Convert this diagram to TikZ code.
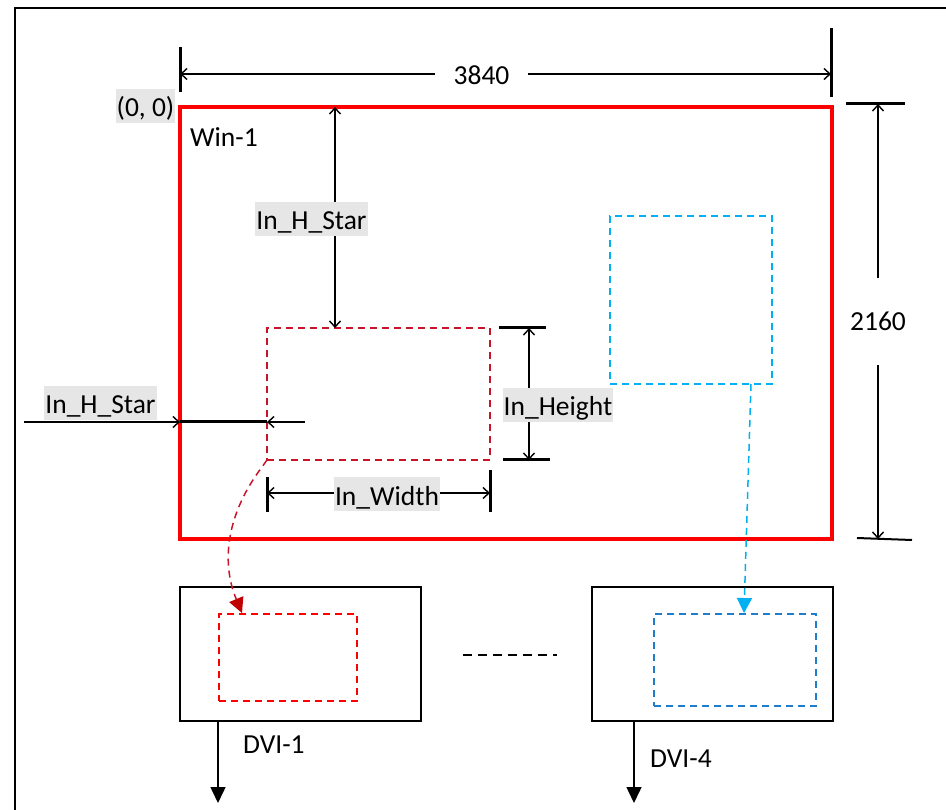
\documentclass[tikz,border=0pt]{standalone}
\usepackage{fontspec}
\setmainfont{Carlito}
\usetikzlibrary{arrows.meta}
\definecolor{winred}{RGB}{255,0,0}
\definecolor{srcred}{RGB}{200,20,40}
\definecolor{darkred}{RGB}{192,0,0}
\definecolor{cyanb}{RGB}{0,176,240}
\definecolor{midblue}{RGB}{30,125,205}
\definecolor{lblgray}{RGB}{230,230,230}
\tikzset{
  rectnode/.style={inner sep=0pt, outer sep=0pt},
  dimboth/.style={line width=1.4pt, {Straight Barb[length=6pt,width=11pt]}-{Straight Barb[length=6pt,width=11pt]}},
  dimone/.style={line width=1.4pt, -{Straight Barb[length=6pt,width=11pt]}},
  tickline/.style={line width=3pt},
  glabel/.style={fill=lblgray, inner xsep=1pt, inner ysep=0pt, text height=28pt, text depth=6pt},
  plainlabel/.style={inner sep=0pt},
  dashrect/.style={line width=1.5pt, dash pattern=on 7pt off 5pt},
  outarrow/.style={line width=1.5pt, -{Triangle[length=16pt,width=15pt]}},
}
\begin{document}
\begin{tikzpicture}[x=1pt,y=-1pt, font=\fontsize{27.5}{32}\selectfont]
\useasboundingbox (0,0) rectangle (946,810);
% outer frame
\coordinate (fbl) at (15,812);
\coordinate (ftl) at (15,8);
\coordinate (ftr) at (948,8);
\draw[line width=2pt] (fbl) -- (ftl) -- (ftr);

% main window
\node[rectnode, draw=winred, line width=4pt, minimum width=652pt, minimum height=432pt] (win) at (506,323) {};
\node[plainlabel, anchor=base west] (winlbl) at (190,147) {Win-1};
\node[glabel, anchor=base] (origin) at (145.5,117) {(0, 0)};

% source windows
\node[rectnode, draw=srcred, dashrect, minimum width=223pt, minimum height=132pt] (src) at (378.5,394) {};
\node[rectnode, draw=cyanb, dashrect, minimum width=162pt, minimum height=168pt] (bsrc) at (691,300) {};

% top dimension 3840
\coordinate (t1a) at (180,47); \coordinate (t1b) at (180,92);
\coordinate (t2a) at (831,28); \coordinate (t2b) at (831,97);
\draw[tickline] (t1a) -- (t1b);
\draw[tickline] (t2a) -- (t2b);
\coordinate (tl) at (180,74); \coordinate (tr) at (831,74);
\node[plainlabel, minimum width=93pt] (w3840) at (481.5,75) {3840};
\draw[dimone] (w3840.west |- tl) -- (tl);
\draw[dimone] (w3840.east |- tr) -- (tr);

% right dimension 2160
\coordinate (r1a) at (846,104); \coordinate (r1b) at (905,104);
\coordinate (r2a) at (857,538); \coordinate (r2b) at (912,540);
\draw[tickline] (r1a) -- (r1b);
\draw[line width=2pt] (r2a) -- (r2b);
\coordinate (rt) at (878,104); \coordinate (rb) at (878,539);
\node[plainlabel, minimum height=87pt] (h2160) at (878,321.5) {2160};
\draw[dimone] (h2160) -- (rt);
\draw[dimone] (h2160) -- (rb);

% vertical In_H_Star
\coordinate (hs1) at (335,107); \coordinate (hs2) at (335,328);
\draw[dimboth] (hs1) -- (hs2);
\node[glabel, anchor=base] (hstarv) at (311.5,230) {In\_H\_Star};

% horizontal In_H_Star
\coordinate (lh0) at (24,422); \coordinate (lh1) at (180,422);
\coordinate (lh2) at (267,422); \coordinate (lh3) at (305,422);
\draw[dimone] (lh0) -- (lh1);
\draw[tickline] (lh1) -- (lh2);
\draw[dimone] (lh3) -- (lh2);
\node[glabel, anchor=base] (hstarh) at (100.5,414) {In\_H\_Star};

% In_Height
\coordinate (ih1a) at (499,328); \coordinate (ih1b) at (546,328);
\coordinate (ih2a) at (503,460); \coordinate (ih2b) at (550,460);
\draw[tickline] (ih1a) -- (ih1b);
\draw[tickline] (ih2a) -- (ih2b);
\coordinate (iht) at (529,328); \coordinate (ihb) at (529,460);
\draw[dimboth] (iht) -- (ihb);
\node[glabel, anchor=base] (inheight) at (558,416) {In\_Height};

% In_Width
\coordinate (iw1a) at (267,477); \coordinate (iw1b) at (267,512);
\coordinate (iw2a) at (490,470); \coordinate (iw2b) at (490,512);
\draw[tickline] (iw1a) -- (iw1b);
\draw[tickline] (iw2a) -- (iw2b);
\coordinate (iwl) at (267,493); \coordinate (iwr) at (490,493);
\draw[dimboth] (iwl) -- (iwr);
\node[glabel, anchor=base] (inwidth) at (387,505) {In\_Width};

% DVI boxes
\node[rectnode, draw, line width=2pt, minimum width=241pt, minimum height=134pt] (dvi1) at (300.5,654) {};
\node[rectnode, draw=winred, dashrect, minimum width=138pt, minimum height=87pt] (dvi1in) at (288,657.5) {};
\node[rectnode, draw, line width=2pt, minimum width=241pt, minimum height=134pt] (dvi4) at (712.5,654) {};
\node[rectnode, draw=midblue, dashrect, minimum width=162pt, minimum height=92pt] (dvi4in) at (735,660) {};

% mapping arrows
\coordinate (rc1) at (262,467);
\coordinate (rc2) at (242,613);
\draw[srcred, dashrect, -{Triangle[length=15pt,width=15pt,color=darkred]}]
  (src.south west) -- (rc1) .. controls (228,512) and (220,560) .. (rc2);
\coordinate (bc1) at (751,384);
\coordinate (bc2) at (744,613);
\draw[cyanb, dashrect, -{Triangle[length=15pt,width=15pt]}] (bc1) -- (bc2);

% separator
\coordinate (sep1) at (463,655); \coordinate (sep2) at (557,655);
\draw[line width=1.5pt, dash pattern=on 9pt off 6pt] (sep1) -- (sep2);

% outputs
\coordinate (o1a) at (218,721); \coordinate (o1b) at (218,803);
\coordinate (o4a) at (634,721); \coordinate (o4b) at (634,803);
\draw[outarrow] (o1a) -- (o1b);
\draw[outarrow] (o4a) -- (o4b);
\node[plainlabel, anchor=base west] (dvi1lbl) at (243,753) {DVI-1};
\node[plainlabel, anchor=base west] (dvi4lbl) at (650,767) {DVI-4};
\end{tikzpicture}
\end{document}
